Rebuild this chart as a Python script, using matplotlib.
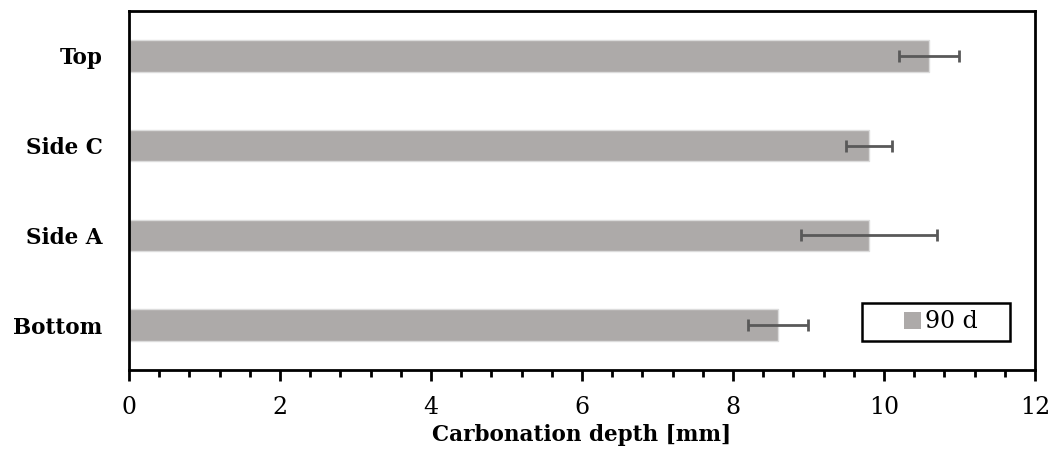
import numpy as np
import matplotlib.pyplot as plt
from matplotlib.patches import Patch, Rectangle
from matplotlib.ticker import MultipleLocator

# ---------- data ----------
faces = ["Bottom", "Side A", "Side C", "Top"]
depth_mm = [8.6, 9.8, 9.8, 10.6]
depth_err = [0.4, 0.9, 0.3, 0.4]
series_label = "90 d"

# ---------- plot ----------
plt.rcParams['font.family'] = ['DejaVu Serif']

fig = plt.figure(figsize=(10.53, 4.5), dpi=100)
ax = fig.add_axes([0.1225, 0.1778, 0.8604, 0.7978])

y = np.arange(len(faces))
bar_color = "#adaaa9"
ax.barh(y, depth_mm, height=0.35, color=bar_color, edgecolor="#dcdcdc", linewidth=1)
ax.errorbar(depth_mm, y, xerr=depth_err, fmt="none", ecolor="#595959",
            elinewidth=2, capsize=4, capthick=2)

ax.set_xlim(0, 12)
ax.set_ylim(-0.5, 3.5)
ax.set_yticks(y)
ax.set_yticklabels(faces, fontweight="bold", fontsize=15.5)
ax.xaxis.set_major_locator(MultipleLocator(2))
ax.xaxis.set_minor_locator(MultipleLocator(0.4))
ax.tick_params(axis="y", length=0, pad=19)
ax.tick_params(axis="x", which="major", length=8, width=2, labelsize=17, pad=11)
ax.tick_params(axis="x", which="minor", length=5, width=2)

for s in ax.spines.values():
    s.set_linewidth(2)
    s.set_color("black")

ax.set_xlabel("Carbonation depth [mm]", fontweight="bold", fontsize=15.5, labelpad=3)

# legend: entry without frame, plus a wide black box like the original
handle = Patch(facecolor=bar_color, edgecolor="none")
leg = ax.legend([handle], [series_label], loc="center",
                bbox_to_anchor=(0.896, 0.1337), fontsize=17, frameon=False,
                handlelength=0.75, handleheight=0.75, handletextpad=0.15,
                borderpad=0, borderaxespad=0)
ax.add_patch(Rectangle((0.8087, 0.0808), 0.1637, 0.1058, transform=ax.transAxes,
                       fill=False, edgecolor="black", linewidth=1.8, zorder=5))

fig.savefig("out.png", dpi=100)
